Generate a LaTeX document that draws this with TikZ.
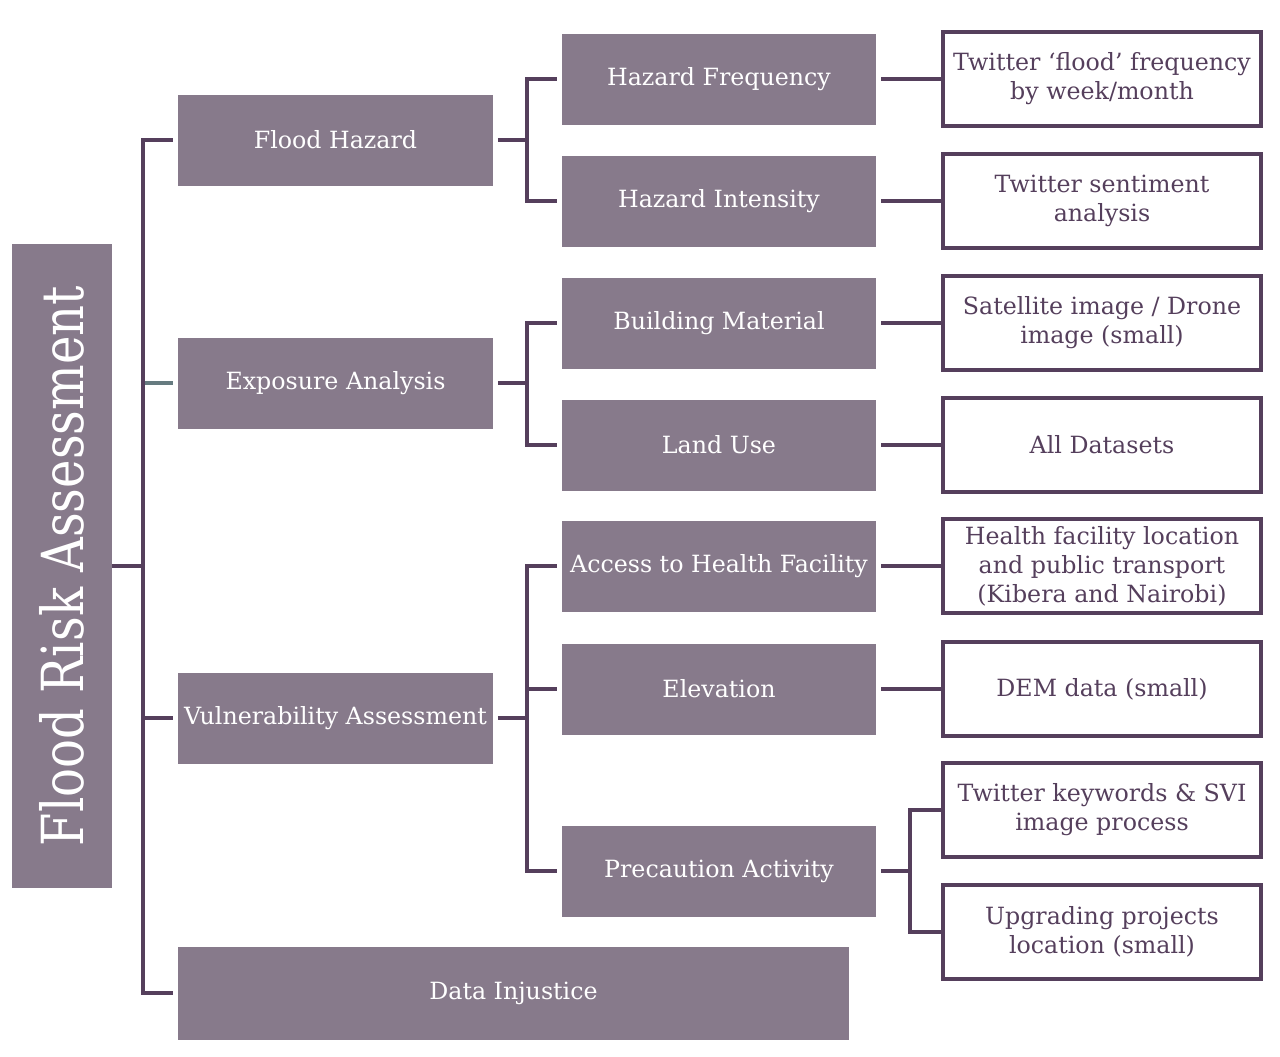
\documentclass[tikz,border=0pt]{standalone}
\usepackage{fontspec}
\setmainfont{DejaVu Serif}
\usetikzlibrary{positioning}
\definecolor{boxfill}{HTML}{877A8B}
\definecolor{linecol}{HTML}{553F5C}
\definecolor{stubcol}{HTML}{667B80}

\begin{document}
\begin{tikzpicture}[
  x=0.02cm, y=-0.02cm,
  every node/.style={font=\fontsize{13.5}{16.5}\selectfont},
  topic/.style={rectangle, fill=boxfill, text=white, align=center,
    minimum width=6.3cm, minimum height=1.82cm, inner sep=0pt, outer sep=0.1cm},
  source/.style={rectangle, draw=linecol, line width=2.2pt, text=linecol, align=center,
    minimum width=6.36cm, minimum height=1.88cm, inner sep=0pt},
  conn/.style={draw=linecol, line width=2.3pt},
  stub/.style={draw=stubcol, line width=2.3pt}]
  \useasboundingbox (0,0) rectangle (1280,1056);
	%% Root
	\node [topic, rotate=90, minimum width=12.9cm, minimum height=2cm, outer sep=0pt,
	  font=\fontsize{33}{40}\selectfont] at (62,566) (root) {\scalebox{0.83}[1]{Flood Risk Assessment}};
	%% First level
	\node [topic] at (335.5,140) (fh) {Flood Hazard};
	\node [topic] at (335.5,383) (ea) {Exposure Analysis};
	\node [topic] at (335.5,718) (va) {Vulnerability Assessment};
	\node [topic, minimum width=13.42cm, minimum height=1.86cm] at (513.5,993) (dj) {Data Injustice};
	%% Second level
	\node [topic] at (719,79) (hf) {Hazard Frequency};
	\node [topic] at (719,201) (hi) {Hazard Intensity};
	\node [topic] at (719,323) (bm) {Building Material};
	\node [topic] at (719,445) (lu) {Land Use};
	\node [topic] at (719,566) (ah) {Access to Health Facility};
	\node [topic] at (719,689) (el) {Elevation};
	\node [topic] at (719,871) (pa) {Precaution Activity};
	%% Data sources
	\node [source] at (1102,79) (tf) {Twitter ‘flood’ frequency\\by week/month};
	\node [source] at (1102,201) (ts) {Twitter sentiment\\analysis};
	\node [source] at (1102,323) (si) {Satellite image / Drone\\image (small)};
	\node [source] at (1102,445) (ad) {All Datasets};
	\node [source] at (1102,566) (hl) {Health facility location\\and public transport\\(Kibera and Nairobi)};
	\node [source] at (1102,689) (dem) {DEM data (small)};
	\node [source] at (1102,810) (tk) {Twitter keywords \& SVI\\image process};
	\node [source] at (1102,932) (up) {Upgrading projects\\location (small)};
	%% Spines
	\coordinate (sp) at (143,566);
	\coordinate (b1) at (527,140);
	\coordinate (b2) at (527,383);
	\coordinate (b3) at (527,718);
	\coordinate (b4) at (910,871);
	%% Links
	\path [stub] (sp |- ea) ++(2,0) -- (ea);
	\path [conn] (root) -- (sp);
	\path [conn] (sp) |- (fh);
	\path [conn] (sp) |- (va);
	\path [conn] (sp) |- (dj);
	\path [conn] (fh) -- (b1);
	\path [conn] (b1) |- (hf);
	\path [conn] (b1) |- (hi);
	\path [conn] (ea) -- (b2);
	\path [conn] (b2) |- (bm);
	\path [conn] (b2) |- (lu);
	\path [conn] (va) -- (b3);
	\path [conn] (b3) |- (ah);
	\path [conn] (b3) |- (el);
	\path [conn] (b3) |- (pa);
	\path [conn] (hf) -- (tf);
	\path [conn] (hi) -- (ts);
	\path [conn] (bm) -- (si);
	\path [conn] (lu) -- (ad);
	\path [conn] (ah) -- (hl);
	\path [conn] (el) -- (dem);
	\path [conn] (pa) -- (b4);
	\path [conn] (b4) |- (tk);
	\path [conn] (b4) |- (up);
\end{tikzpicture}
\end{document}
